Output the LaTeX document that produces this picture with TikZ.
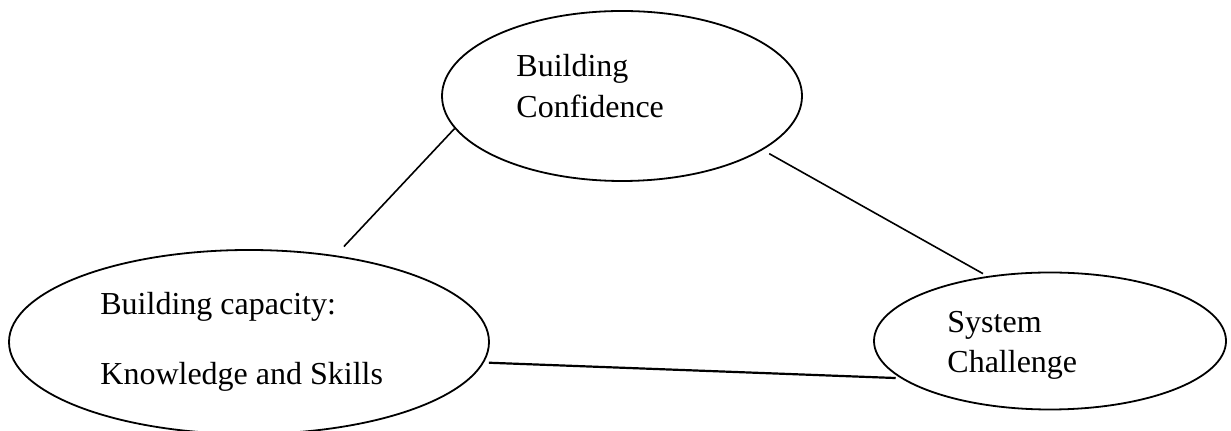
\documentclass[tikz,border=0pt]{standalone}
\usepackage{fontspec}
\setmainfont{Liberation Serif}
\usetikzlibrary{shapes.geometric}
\tikzset{
  bubble/.style={draw=black,ellipse,line width=0.9pt,inner sep=0pt},
  lbl/.style={anchor=base west,inner sep=0pt,align=left},
  link/.style={draw=black,line width=0.8pt},
}
\begin{document}
\begin{tikzpicture}[x=0.5pt,y=-0.5pt]
\useasboundingbox (0,0) rectangle (1231,431);

\node[bubble,minimum width=180pt,minimum height=85pt] (conf) at (622,96) {};
\node[bubble,minimum width=240pt,minimum height=92pt] (cap) at (249,342) {};
\node[bubble,minimum width=176pt,minimum height=68.5pt] (sys) at (1050,341) {};

\node[lbl,font=\fontsize{16}{20.5}\selectfont] (conftext) at (516,118) {Building\\Confidence};
\node[lbl,font=\fontsize{16}{35}\selectfont] (captext) at (100,385) {Building capacity:\\Knowledge and Skills};
\node[lbl,font=\fontsize{16}{20}\selectfont] (systext) at (947,373) {System\\Challenge};

\draw[link,shorten <=6pt] (cap.45) -- (conf.191);
\draw[link,shorten <=3.75pt,shorten >=2.5pt] (conf.-21) -- (sys.134);
\draw[link,line width=1.1pt,shorten <=2.5pt,shorten >=2.5pt] (cap.-5) -- (sys.194);

\end{tikzpicture}
\end{document}
